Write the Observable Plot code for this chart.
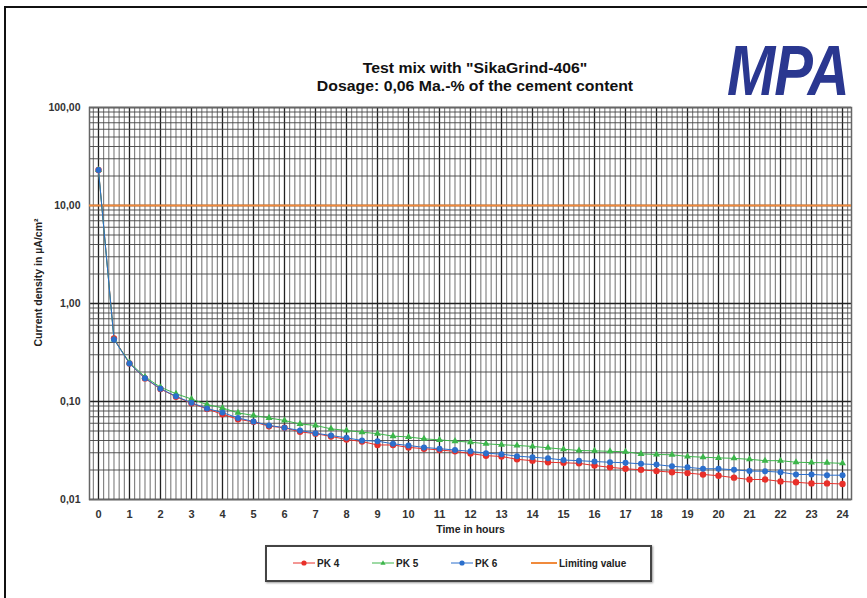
<!DOCTYPE html>
<html>
<head>
<meta charset="utf-8">
<script src="https://cdn.jsdelivr.net/npm/d3@7"></script>
<script src="https://cdn.jsdelivr.net/npm/@observablehq/plot@0.6"></script>
<style>
  html, body { margin: 0; padding: 0; background: #fff; }
  #wrap { position: relative; width: 867px; height: 598px; overflow: hidden; font-family: "Liberation Sans", Arial, sans-serif; }
  #wrap svg { position: absolute; left: 0; top: 0; }
  .abs { position: absolute; }
  #title { left: 225px; top: 59px; width: 500px; text-align: center; font-weight: bold; font-size: 15.5px; line-height: 18px; color: #111; transform: scaleX(1.02); }
  #logo { left: 727px; top: 36px; line-height: 1; font-weight: bold; font-style: italic; font-size: 58px; color: #2a3790; letter-spacing: -1px; transform: scaleY(1.2); transform-origin: left top; }
  #border-left { left: 4px; top: 6px; width: 2px; height: 600px; background: #111; }
  #border-top { left: 4px; top: 6px; width: 870px; height: 2px; background: #111; }
  #legend { left: 265px; top: 545px; width: 387px; height: 37px; border: 2px solid #444; box-shadow: 1px 1px 2px #999; box-sizing: border-box; }
  .lg { position: absolute; top: 11px; font-size: 10px; font-weight: bold; color: #222; }
</style>
</head>
<body>
<div id="wrap">
  <div class="abs" id="border-left"></div>
  <div class="abs" id="border-top"></div>
  <div class="abs" id="title">Test mix with "SikaGrind-406"<br>Dosage: 0,06 Ma.-% of the cement content</div>
  <div class="abs" id="logo">MPA</div>
  <div class="abs" id="legend"></div>
</div>
<script>
// ---- data ----
const hours = d3.range(0, 24.01, 0.5);
const pk4 = [23, 0.44, 0.244, 0.172, 0.134, 0.112, 0.096, 0.084, 0.074, 0.066, 0.062, 0.056, 0.054, 0.049, 0.047, 0.044, 0.041, 0.039, 0.036, 0.036, 0.034, 0.033, 0.032, 0.031, 0.0294, 0.028, 0.0275, 0.0257, 0.0249, 0.024, 0.0237, 0.0234, 0.0222, 0.0213, 0.0206, 0.0201, 0.0195, 0.019, 0.0186, 0.018, 0.0175, 0.0167, 0.016, 0.016, 0.0153, 0.015, 0.0146, 0.0146, 0.0144];
const pk5 = [23, 0.43, 0.25, 0.178, 0.14, 0.12, 0.106, 0.093, 0.086, 0.0766, 0.072, 0.068, 0.064, 0.059, 0.057, 0.0526, 0.0506, 0.0486, 0.047, 0.0443, 0.0435, 0.0416, 0.0406, 0.0394, 0.0385, 0.037, 0.0362, 0.0356, 0.0348, 0.0337, 0.0326, 0.0316, 0.0314, 0.031, 0.0307, 0.0292, 0.0288, 0.0286, 0.0275, 0.027, 0.0266, 0.0263, 0.0257, 0.0249, 0.0249, 0.024, 0.0238, 0.0237, 0.0234];
const pk6 = [23, 0.43, 0.244, 0.173, 0.135, 0.113, 0.097, 0.085, 0.077, 0.068, 0.0625, 0.057, 0.054, 0.0506, 0.0475, 0.045, 0.0426, 0.040, 0.0394, 0.037, 0.0356, 0.034, 0.033, 0.032, 0.031, 0.0297, 0.029, 0.0277, 0.027, 0.0263, 0.0253, 0.0249, 0.0244, 0.024, 0.0237, 0.0231, 0.0227, 0.0218, 0.0213, 0.0206, 0.0206, 0.0201, 0.0195, 0.0194, 0.019, 0.018, 0.018, 0.0177, 0.0177];
const limitingValue = 10;
const xTicks = d3.range(0, 25, 1);
const yTicks = [0.01, 0.1, 1, 10, 100];
const seriesNames = ["PK 4", "PK 5", "PK 6", "Limiting value"];
const seriesColors = ["#e8302a", "#3cb54a", "#2b6fcc", "#f08a3c"];

// ---- derived ----
const toRows = (vals) => hours.map((h, i) => ({h, v: vals[i]}));
const r4 = toRows(pk4), r5 = toRows(pk5), r6 = toRows(pk6);
const minorX = d3.range(-1, 24 * 6 + 2).map(k => k / 6).filter(v => v > -0.29 && v < 24.29);
const minorY = [];
for (const d of [0.01, 0.1, 1, 10]) for (let m = 1; m <= 9; m++) minorY.push(+(d * m).toPrecision(3));
minorY.push(100);
const fmt = v => d3.format(".2f")(v).replace(".", ",");

const chart = Plot.plot({
  width: 867,
  height: 598,
  marginLeft: 89,
  marginRight: 16,
  marginTop: 107,
  marginBottom: 99,
  style: {fontFamily: "'Liberation Sans', Arial, sans-serif", background: "transparent"},
  x: {domain: [-0.29, 24.29]},
  y: {type: "log", domain: [0.01, 100]},
  marks: [
    Plot.ruleX(minorX, {stroke: "#555", strokeWidth: 1, strokeOpacity: 0.85}),
    Plot.ruleX(xTicks, {stroke: "#222", strokeWidth: 1.3}),
    Plot.ruleY(minorY, {stroke: "#444", strokeWidth: 1.1, strokeOpacity: 0.9}),
    Plot.ruleY(yTicks, {stroke: "#222", strokeWidth: 1.3}),
    Plot.frame({stroke: "#666", strokeWidth: 1.5}),
    Plot.ruleY([limitingValue], {stroke: seriesColors[3], strokeWidth: 2.2}),
    Plot.line(r4, {x: "h", y: "v", stroke: seriesColors[0], strokeWidth: 1}),
    Plot.line(r5, {x: "h", y: "v", stroke: seriesColors[1], strokeWidth: 1}),
    Plot.line(r6, {x: "h", y: "v", stroke: seriesColors[2], strokeWidth: 1}),
    Plot.dot(r4, {x: "h", y: "v", fill: seriesColors[0], r: 3.2}),
    Plot.dot(r5, {x: "h", y: "v", fill: seriesColors[1], symbol: "triangle", r: 2.6}),
    Plot.dot(r6, {x: "h", y: "v", fill: seriesColors[2], r: 3}),
    Plot.axisY({ticks: yTicks, tickFormat: fmt, tickSize: 0, tickPadding: 9, fontSize: 10.5, fontWeight: "bold", fill: "#333", label: null}),
    Plot.axisX({ticks: xTicks, tickFormat: d => String(d), tickSize: 0, tickPadding: 11, fontSize: 11, fontWeight: "bold", fill: "#333", label: null}),
    Plot.text(["Time in hours"], {frameAnchor: "bottom", dy: 33, fontSize: 10.5, fontWeight: "bold", fill: "#222"}),
    Plot.text(["Current density in µA/cm²"], {frameAnchor: "left", textAnchor: "middle", dx: -51, dy: -21, rotate: -90, fontSize: 10.5, fontWeight: "bold", fill: "#222"})
  ]
});
document.getElementById("wrap").prepend(chart);

// ---- legend ----
const legend = document.getElementById("legend");
const lgX = [26, 105, 184, 264];
seriesNames.forEach((name, i) => {
  const w = i === 3 ? 26 : 22;
  const sym = i === 0 ? `<circle cx="${w/2}" cy="4" r="2.6" fill="${seriesColors[i]}"/>`
    : i === 1 ? `<path d="M${w/2},1.2 L${w/2+2.6},5.8 L${w/2-2.6},5.8 Z" fill="${seriesColors[i]}"/>`
    : i === 2 ? `<circle cx="${w/2}" cy="4" r="2.6" fill="${seriesColors[i]}"/>` : "";
  const svg = `<svg width="${w}" height="8" style="position:absolute;left:${lgX[i]}px;top:12px"><line x1="0" x2="${w}" y1="4" y2="4" stroke="${seriesColors[i]}" stroke-width="${i===3?2:1}"/>${sym}</svg>`;
  legend.insertAdjacentHTML("beforeend", svg + `<span class="lg" style="left:${lgX[i] + w + 2}px">${name}</span>`);
});
</script>
</body>
</html>
